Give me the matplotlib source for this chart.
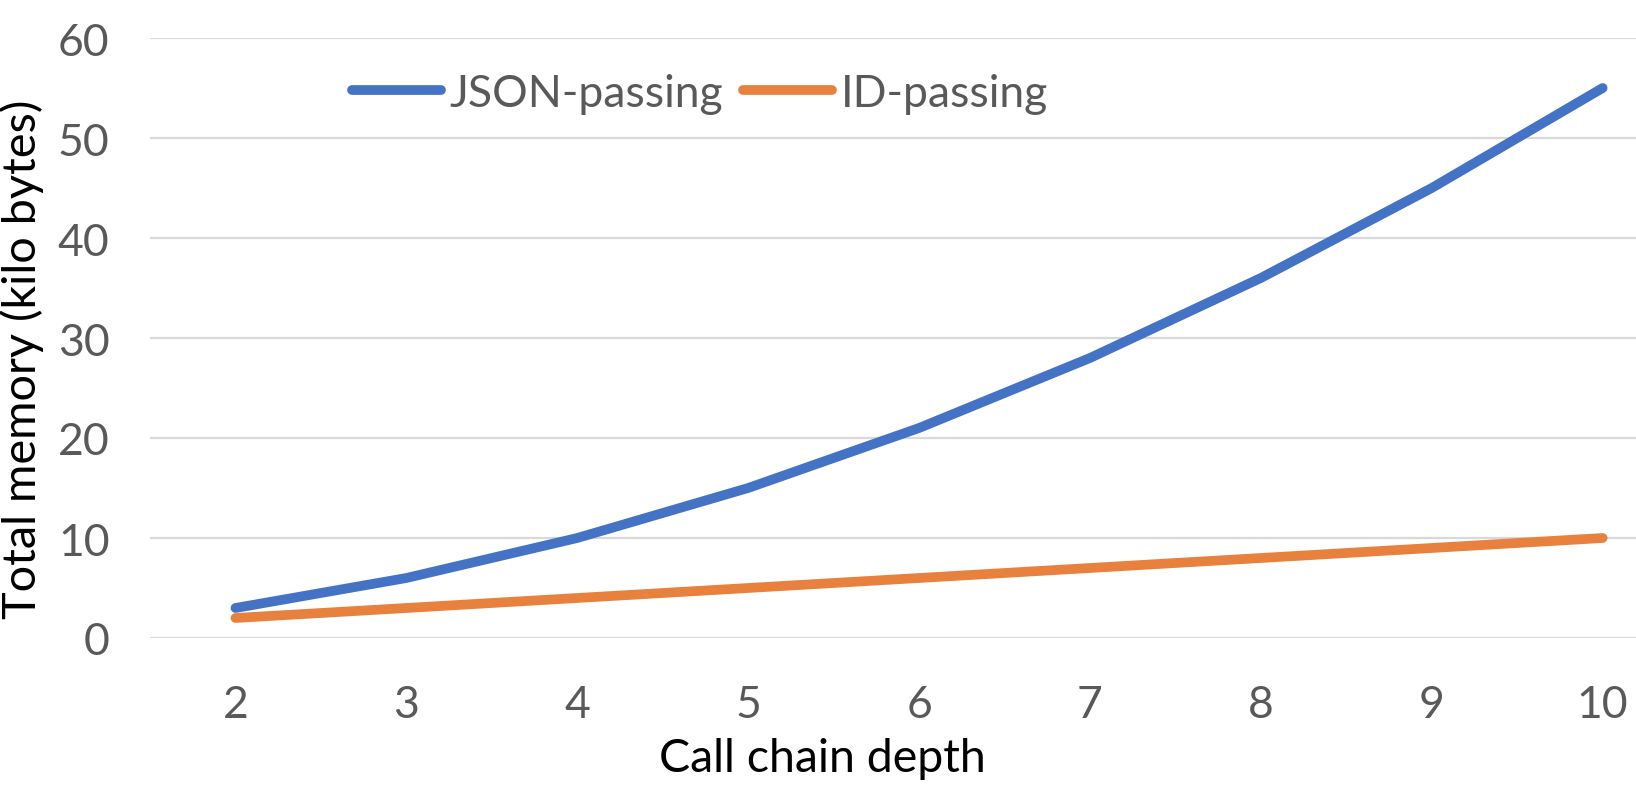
import matplotlib
matplotlib.use("Agg")
import matplotlib.pyplot as plt

depth = [2, 3, 4, 5, 6, 7, 8, 9, 10]
json_passing = [3, 6, 10, 15, 21, 28, 36, 45, 55]
id_passing = [2, 3, 4, 5, 6, 7, 8, 9, 10]

plt.rcParams['font.family'] = ['Lato', 'DejaVu Sans']

W, H = 1636, 804
fig = plt.figure(figsize=(W / 100, H / 100), dpi=100)
ax = fig.add_axes([150 / W, (H - 639) / H, (W - 150) / W, 600 / H])

ax.plot(depth, json_passing, color='#4472C4', lw=7, solid_capstyle='round',
        solid_joinstyle='round', label='JSON-passing', zorder=3)
ax.plot(depth, id_passing, color='#E8803E', lw=7, solid_capstyle='round',
        solid_joinstyle='round', label='ID-passing', zorder=3)

# category spacing ~171 px, axes runs off the right edge like the source crop
ax.set_xlim(1.5, 1.5 + (W - 150) / 170.9)
ax.set_ylim(0, 60)
ax.set_xticks(depth)
ax.set_yticks(range(0, 61, 10))
ax.grid(axis='y', color='#D9D9D9', lw=1.6)
ax.set_axisbelow(True)
for s in ax.spines.values():
    s.set_visible(False)
ax.tick_params(length=0, labelsize=32, labelcolor='#595959')
ax.tick_params(axis='y', pad=29)
ax.tick_params(axis='x', pad=33)

ax.set_xlabel('Call chain depth', fontsize=33.5, color='black')
ax.xaxis.set_label_coords((822 - 150) / (W - 150), -(738 - 639) / 600)
ax.xaxis.label.set_va('top')
ax.set_ylabel('Total memory (kilo bytes)', fontsize=33.7, color='black')
ax.yaxis.set_label_coords(-(150 - 44) / (W - 150), (639 - 359) / 600)

leg = ax.legend(loc='upper left', bbox_to_anchor=(352 / W, 1 - 74 / H),
                bbox_transform=fig.transFigure, ncol=2, frameon=False,
                fontsize=32, handlelength=2.0, handletextpad=0.2,
                columnspacing=0.45, borderaxespad=0, borderpad=0)
for t in leg.get_texts():
    t.set_color('#595959')

fig.savefig('out.png', dpi=100)
